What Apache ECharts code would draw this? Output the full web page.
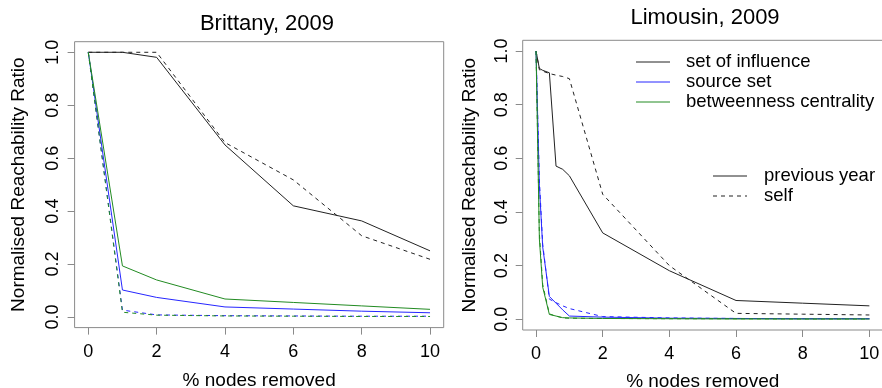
<!DOCTYPE html>
<html>
<head>
<meta charset="utf-8">
<script src="https://cdn.jsdelivr.net/npm/echarts@6/dist/echarts.min.js"></script>
<style>
  html, body { margin: 0; padding: 0; background: #fff; }
  #chart { width: 882px; height: 388px; }
</style>
</head>
<body>
<div id="chart"></div>
<script>
// ---- Brittany, 2009 ----
const brittanyX = [0, 1, 2, 4, 6, 8, 10];
const brInfluencePrev = [1.0, 1.0, 0.981, 0.65, 0.42, 0.363, 0.25];
const brInfluenceSelf = [1.0, 1.0, 1.0, 0.659, 0.518, 0.307, 0.218];
const brSourcePrev = [1.0, 0.102, 0.074, 0.038, 0.03, 0.022, 0.016];
const brSourceSelf = [1.0, 0.026, 0.008, 0.005, 0.004, 0.003, 0.003];
const brBetweenPrev = [1.0, 0.193, 0.14, 0.068, 0.055, 0.042, 0.029];
const brBetweenSelf = [1.0, 0.018, 0.007, 0.004, 0.003, 0.002, 0.002];

// ---- Limousin, 2009 ----
const limousinX = [0, 0.1, 0.2, 0.4, 0.6, 0.8, 1, 2, 4, 6, 8, 10];
const liInfluencePrev = [1.0, 0.935, 0.928, 0.919, 0.571, 0.559, 0.535, 0.322, 0.181, 0.07, 0.06, 0.05];
const liInfluenceSelf = [1.0, 0.93, 0.925, 0.916, 0.91, 0.905, 0.897, 0.466, 0.2, 0.022, 0.019, 0.016];
const liSourcePrev = [1.0, 0.5, 0.27, 0.085, 0.06, 0.035, 0.012, 0.008, 0.004, 0.003, 0.002, 0.002];
const liSourceSelf = [1.0, 0.52, 0.28, 0.075, 0.062, 0.05, 0.04, 0.01, 0.005, 0.003, 0.002, 0.002];
const liBetweenPrev = [1.0, 0.3, 0.12, 0.018, 0.012, 0.006, 0.005, 0.003, 0.002, 0.001, 0.001, 0.001];
const liBetweenSelf = [1.0, 0.32, 0.13, 0.02, 0.012, 0.005, 0.004, 0.003, 0.002, 0.002, 0.001, 0.001];

// tick labels
const xTicks = [0, 2, 4, 6, 8, 10];
const yTicks = [0, 0.2, 0.4, 0.6, 0.8, 1.0];

const FONT = "Liberation Sans";
const BLACK = "#222";
const BLUE = "#2626ff";
const GREEN = "#228B22";
const BOX = "#8a8a8a";

function pairs(xs, ys) {
  return xs.map((x, i) => [x, ys[i]]);
}

function line(name, idx, xs, ys, color, dashed) {
  return {
    name, type: "line", xAxisIndex: idx, yAxisIndex: idx,
    data: pairs(xs, ys),
    showSymbol: false, symbol: "none", silent: true,
    lineStyle: { color, width: 1, type: dashed ? [4, 4] : "solid" }
  };
}

function xAxis(idx, nameGap) {
  return {
    type: "value", gridIndex: idx, min: -0.4, max: 10.4,
    name: "% nodes removed", nameLocation: "middle", nameGap,
    nameTextStyle: { fontFamily: FONT, fontSize: 19, color: "#000" },
    axisLine: { show: false, onZero: false },
    splitLine: { show: false },
    axisTick: { show: true, customValues: xTicks, length: 7, lineStyle: { color: BOX } },
    axisLabel: { customValues: xTicks, margin: 15, fontFamily: FONT, fontSize: 18, color: "#000" }
  };
}

function yAxis(idx, nameGap, labelMargin) {
  return {
    type: "value", gridIndex: idx, min: -0.04, max: 1.04,
    name: "Normalised Reachability Ratio", nameLocation: "middle", nameGap, nameRotate: 90,
    nameTextStyle: { fontFamily: FONT, fontSize: 19, color: "#000" },
    axisLine: { show: false, onZero: false },
    splitLine: { show: false },
    axisTick: { show: true, customValues: yTicks, length: 7, lineStyle: { color: BOX } },
    axisLabel: {
      customValues: yTicks, rotate: 90, margin: labelMargin,
      fontFamily: FONT, fontSize: 18, color: "#000",
      formatter: v => v.toFixed(1)
    }
  };
}

/* ---------- legends (drawn as graphics, right panel) ---------- */
function legendRow(x1, x2, y, textX, label, color, dashed) {
  return [
    { type: "line", shape: { x1, y1: y, x2, y2: y }, style: { stroke: color, lineWidth: 1, lineDash: dashed ? [4, 4] : null } },
    { type: "text", x: textX, y, style: { text: label, fontFamily: FONT, fontSize: 18.5, fill: "#000", verticalAlign: "middle" } }
  ];
}

const legendGraphics = [].concat(
  legendRow(636, 670, 62, 686, "set of influence", BLACK, false),
  legendRow(636, 670, 82, 686, "source set", BLUE, false),
  legendRow(636, 670, 102, 686, "betweenness centrality", GREEN, false),
  legendRow(713, 747, 176, 764, "previous year", BLACK, false),
  legendRow(713, 747, 196, 764, "self", BLACK, true)
);

const chart = echarts.init(document.getElementById("chart"), null, { renderer: "canvas" });
chart.setOption({
  animation: false,
  backgroundColor: "#fff",
  title: [
    { text: "Brittany, 2009", left: 262, top: 8, textAlign: "center",
      textStyle: { fontFamily: FONT, fontSize: 22, fontWeight: "normal", color: "#000" } },
    { text: "Limousin, 2009", left: 700, top: 2, textAlign: "center",
      textStyle: { fontFamily: FONT, fontSize: 22, fontWeight: "normal", color: "#000" } }
  ],
  grid: [
    { left: 74.6, top: 41.7, width: 369.1, height: 285.9, outerBoundsMode: "none", containLabel: false,
      show: true, borderColor: BOX, borderWidth: 1, backgroundColor: "transparent" },
    { left: 522.7, top: 40.3, width: 360, height: 289.7, outerBoundsMode: "none", containLabel: false,
      show: true, borderColor: BOX, borderWidth: 1, backgroundColor: "transparent" }
  ],
  xAxis: [xAxis(0, 44), xAxis(1, 42)],
  yAxis: [yAxis(0, 46, 13), yAxis(1, 43, 12)],
  graphic: legendGraphics,
  series: [
    line("set of influence / previous year", 0, brittanyX, brInfluencePrev, BLACK, false),
    line("set of influence / self", 0, brittanyX, brInfluenceSelf, BLACK, true),
    line("source set / previous year", 0, brittanyX, brSourcePrev, BLUE, false),
    line("source set / self", 0, brittanyX, brSourceSelf, BLUE, true),
    line("betweenness centrality / previous year", 0, brittanyX, brBetweenPrev, GREEN, false),
    line("betweenness centrality / self", 0, brittanyX, brBetweenSelf, GREEN, true),

    line("set of influence / previous year", 1, limousinX, liInfluencePrev, BLACK, false),
    line("set of influence / self", 1, limousinX, liInfluenceSelf, BLACK, true),
    line("source set / previous year", 1, limousinX, liSourcePrev, BLUE, false),
    line("source set / self", 1, limousinX, liSourceSelf, BLUE, true),
    line("betweenness centrality / previous year", 1, limousinX, liBetweenPrev, GREEN, false),
    line("betweenness centrality / self", 1, limousinX, liBetweenSelf, GREEN, true)
  ]
});
</script>
</body>
</html>
